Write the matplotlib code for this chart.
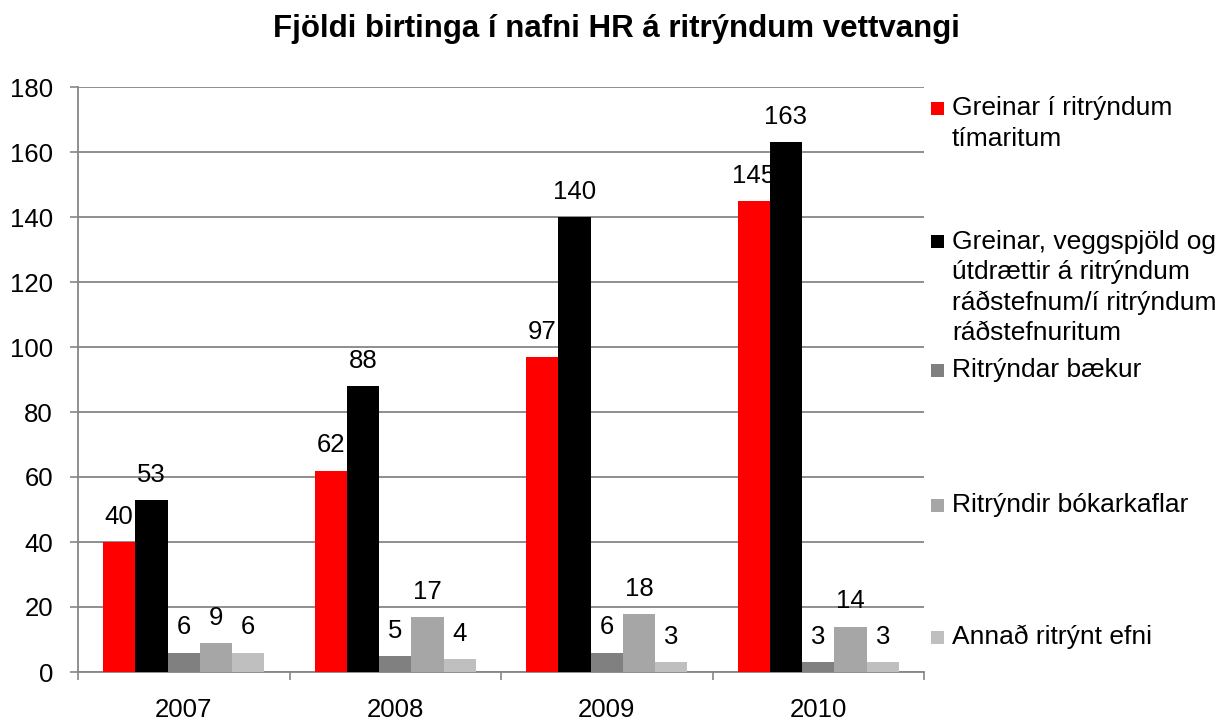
import matplotlib
matplotlib.use("Agg")
import matplotlib.pyplot as plt
from matplotlib.patches import Rectangle
import numpy as np

plt.rcParams['font.family'] = ['Liberation Sans', 'DejaVu Sans']

title = "Fjöldi birtinga í nafni HR á ritrýndum vettvangi"
years = ["2007", "2008", "2009", "2010"]
series_names = [
    "Greinar í ritrýndum\ntímaritum",
    "Greinar, veggspjöld og\nútdrættir á ritrýndum\nráðstefnum/í ritrýndum\nráðstefnuritum",
    "Ritrýndar bækur",
    "Ritrýndir bókarkaflar",
    "Annað ritrýnt efni",
]
greinar = [40, 62, 97, 145]
radstefnur = [53, 88, 140, 163]
baekur = [6, 5, 6, 3]
kaflar = [9, 17, 18, 14]
annad = [6, 4, 3, 3]
series_values = [greinar, radstefnur, baekur, kaflar, annad]
colors = ["#FF0000", "#000000", "#808080", "#A6A6A6", "#BFBFBF"]

FS = 18.5
W, H = 1226, 725
fig = plt.figure(figsize=(W / 100, H / 100), dpi=100)
ax = fig.add_axes([78 / W, (H - 672) / H, (924 - 78) / W, (672 - 87) / H])

x = np.arange(len(years))
bw = 0.1525
for i, (vals, c) in enumerate(zip(series_values, colors)):
    pos = x + (i - 2) * bw
    ax.bar(pos, vals, width=bw, color=c, zorder=3)
    for px, v in zip(pos, vals):
        ax.annotate(str(v), (px, v), xytext=(0, 18), textcoords="offset points",
                    ha="center", va="center", fontsize=FS, color="#000000", zorder=4)

ax.set_xlim(-0.5, len(years) - 0.5)
ax.set_ylim(0, 180)
ax.set_yticks(np.arange(0, 181, 20))
ax.set_xticks(x)
ax.set_xticklabels(years)
ax.set_xticks(np.arange(-0.5, len(years), 1.0), minor=True)
ax.tick_params(axis="x", which="major", length=0, pad=19, labelsize=FS)
ax.tick_params(axis="x", which="minor", length=6, width=1.2, color="#868686", direction="out")
ax.tick_params(axis="y", which="major", length=6, width=1.2, color="#868686", pad=12, labelsize=FS)
ax.yaxis.grid(True, color="#868686", linewidth=1.3, zorder=0)
ax.set_axisbelow(True)
for s in ["top", "right"]:
    ax.spines[s].set_visible(False)
for s in ["left", "bottom"]:
    ax.spines[s].set_color("#868686")
    ax.spines[s].set_linewidth(1.3)

fig.text(616.5 / W, 1 - 36.5 / H, title, ha="center", va="baseline",
         fontsize=22.5, fontweight="bold")

# legend
legend_y = [108, 242, 370, 505, 637]
line_h = 30.5
for name, c, y0 in zip(series_names, colors, legend_y):
    fig.patches.append(Rectangle((931 / W, 1 - (y0 + 6.5) / H), 13 / W, 13 / H,
                                 transform=fig.transFigure, facecolor=c,
                                 edgecolor="none"))
    for k, line in enumerate(name.split("\n")):
        fig.text(952 / W, 1 - (y0 + k * line_h) / H, line, ha="left", va="center",
                 fontsize=19)

fig.savefig("out.png", dpi=100)
